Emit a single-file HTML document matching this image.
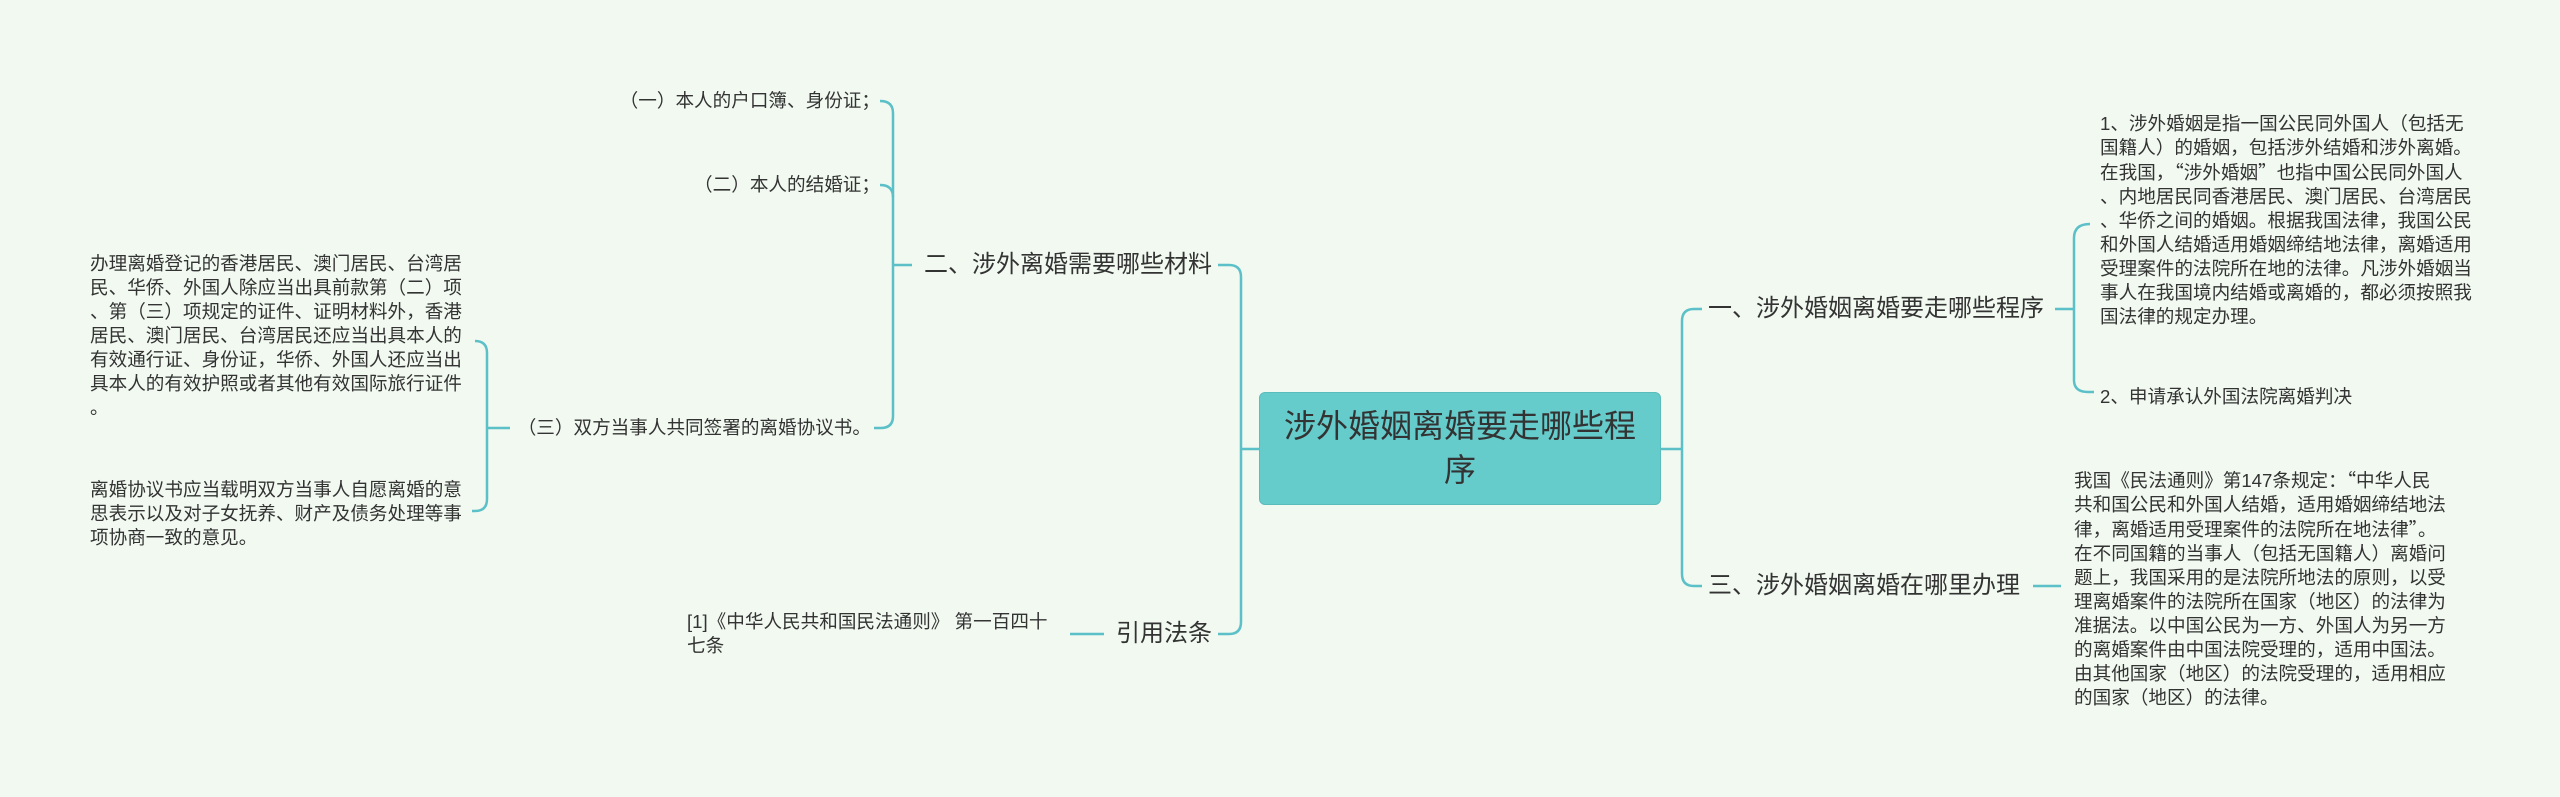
<!DOCTYPE html>
<html><head><meta charset="utf-8"><style>
html,body{margin:0;padding:0}
body{width:2560px;height:797px;background:#f1f9f1;position:relative;overflow:hidden;font-family:"Liberation Sans","Noto Sans CJK SC",sans-serif;color:#333}
.t{position:absolute;white-space:nowrap;font-size:18.6px;line-height:24px}
.q{font-family:"Noto Sans CJK SC",sans-serif}
.b{position:absolute;white-space:nowrap;font-size:24px;line-height:30px}
.c{position:absolute;left:1259px;top:392px;width:402px;height:113px;background:#65cbcb;border:1px solid #5bbcbc;border-radius:6px;box-sizing:border-box;font-size:32px;line-height:44px;text-align:center;padding-top:11px;color:#333}
</style></head><body>
<svg width="2560" height="797" style="position:absolute;left:0;top:0" fill="none" stroke="#5bc0c8" stroke-width="2.5">
<path d="M1661 449 H1682"/>
<path d="M1702 309 H1694 Q1682 309 1682 321 V574 Q1682 586 1694 586 H1702"/>
<path d="M1259 449 H1241"/>
<path d="M1218 265 H1229 Q1241 265 1241 277 V622 Q1241 634 1229 634 H1218"/>
<path d="M2055 309 H2074"/>
<path d="M2090 224 Q2074 224 2074 238 V380 Q2074 392 2088 392 H2094"/>
<path d="M2033 586 H2061"/>
<path d="M912 265 H893"/>
<path d="M880 101 Q893 101 893 113 V416 Q893 428 881 428 H874"/>
<path d="M880 185 Q893 185 893 197"/>
<path d="M1070 634 H1104"/>
<path d="M510 428 H487"/>
<path d="M475 341 Q487 341 487 353 V499 Q487 511 475 511 H472"/>
</svg>
<div class="c">涉外婚姻离婚要走哪些程<br>序</div>
<div class="b" style="left:1708px;top:294px">一、涉外婚姻离婚要走哪些程序</div>
<div class="b" style="left:1708px;top:571px">三、涉外婚姻离婚在哪里办理</div>
<div class="b" style="right:1348px;top:250px">二、涉外离婚需要哪些材料</div>
<div class="b" style="right:1348px;top:619px">引用法条</div>
<div class="t" style="left:2100px;top:112px">1、涉外婚姻是指一国公民同外国人（包括无<br>国籍人）的婚姻，包括涉外结婚和涉外离婚。<br>在我国，<span class="q">“</span>涉外婚姻<span class="q">”</span>也指中国公民同外国人<br>、内地居民同香港居民、澳门居民、台湾居民<br>、华侨之间的婚姻。根据我国法律，我国公民<br>和外国人结婚适用婚姻缔结地法律，离婚适用<br>受理案件的法院所在地的法律。凡涉外婚姻当<br>事人在我国境内结婚或离婚的，都必须按照我<br>国法律的规定办理。</div>
<div class="t" style="left:2100px;top:385px">2、申请承认外国法院离婚判决</div>
<div class="t" style="left:2074px;top:468px">我国《民法通则》第147条规定：<span class="q">“</span>中华人民<br>共和国公民和外国人结婚，适用婚姻缔结地法<br>律，离婚适用受理案件的法院所在地法律<span class="q">”</span>。<br>在不同国籍的当事人（包括无国籍人）离婚问<br>题上，我国采用的是法院所地法的原则，以受<br>理离婚案件的法院所在国家（地区）的法律为<br>准据法。以中国公民为一方、外国人为另一方<br>的离婚案件由中国法院受理的，适用中国法。<br>由其他国家（地区）的法院受理的，适用相应<br>的国家（地区）的法律。</div>
<div class="t" style="right:1680px;top:89px">（一）本人的户口簿、身份证；</div>
<div class="t" style="right:1680px;top:173px">（二）本人的结婚证；</div>
<div class="t" style="right:1689px;top:416px">（三）双方当事人共同签署的离婚协议书。</div>
<div class="t" style="left:90px;top:252px">办理离婚登记的香港居民、澳门居民、台湾居<br>民、华侨、外国人除应当出具前款第（二）项<br>、第（三）项规定的证件、证明材料外，香港<br>居民、澳门居民、台湾居民还应当出具本人的<br>有效通行证、身份证，华侨、外国人还应当出<br>具本人的有效护照或者其他有效国际旅行证件<br>。</div>
<div class="t" style="left:90px;top:478px">离婚协议书应当载明双方当事人自愿离婚的意<br>思表示以及对子女抚养、财产及债务处理等事<br>项协商一致的意见。</div>
<div class="t" style="left:687px;top:610px">[1]《中华人民共和国民法通则》 第一百四十<br>七条</div>
</body></html>
